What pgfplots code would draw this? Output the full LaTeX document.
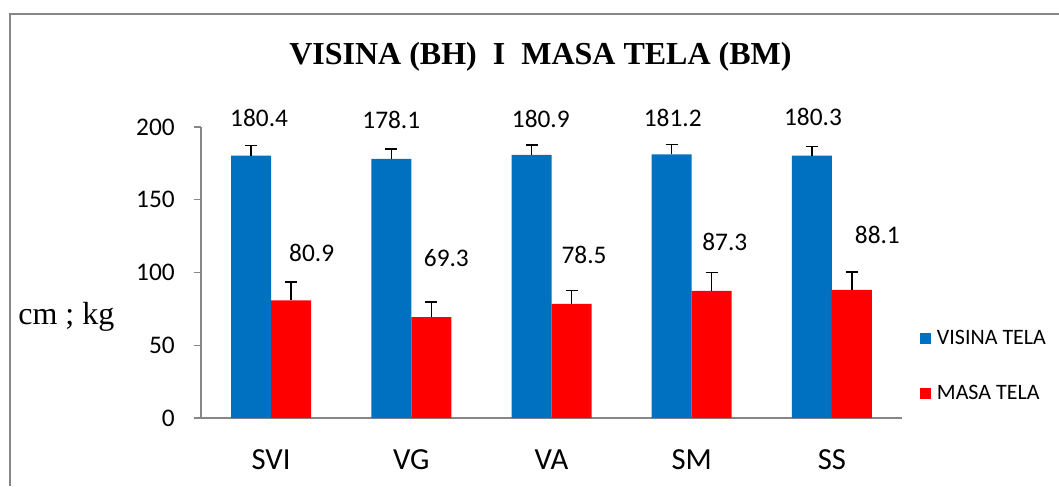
\documentclass[border=0pt]{standalone}
\usepackage{pgfplots}
\pgfplotsset{compat=1.18}
\usepackage{pgfplotstable}
\usepackage{fontspec}
\setmainfont{Carlito}
\newfontfamily\timesfont{Liberation Serif}
\definecolor{xlblue}{RGB}{0,112,192}
\definecolor{xlred}{RGB}{255,0,0}
\definecolor{frame}{RGB}{134,134,134}
\pgfplotstableread{
x b be bdx bdy r re rdx rdy
0 180.4 6.9 6.0 28.1 80.9 12.6 15.4 35.5
1 178.1 6.9 0.0 29.2 69.3 10.3 11.3 44.4
2 180.9 6.6 7.0 26.6 78.5 9.0 9.4 36.6
3 181.2 6.7 0.8 27.1 87.3 12.8 9.8 37.0
4 180.3 6.4 0.8 28.8 88.1 12.2 19.1 41.1
}\data
\begin{document}
\begin{tikzpicture}
\useasboundingbox (0,0) rectangle (794.25pt,364.5pt);
\draw[frame, line width=1.4pt] (7.5pt,0) -- (7.5pt,354pt) -- (794.25pt,354pt);
\begin{axis}[
  at={(150.75pt,51pt)}, anchor=south west,
  scale only axis, width=525.75pt, height=218.25pt,
  ybar=0pt, bar width=30pt,
  xmin=-0.5, xmax=4.5, ymin=0, ymax=200,
  xtick={0,1,2,3,4}, xticklabels={SVI,VG,VA,SM,SS},
  major x tick style={draw=none},
  extra x ticks={-0.5,0.5,1.5,2.5,3.5,4.5},
  extra x tick labels={},
  extra x tick style={major tick length=7pt, tick style={frame, line width=1.1pt}},
  ytick={0,50,100,150,200},
  ytick style={frame, line width=1.1pt},
  major tick length=5.5pt,
  tick align=outside,
  axis x line*=bottom, axis y line*=left,
  axis line style={frame, line width=1.1pt, -},
  /pgf/number format/assume math mode=true,
  /pgf/number format/fixed,
  /pgf/number format/fixed zerofill,
  /pgf/number format/precision=1,
  yticklabel={\pgfmathprintnumber[fixed,precision=0]{\tick}},
  yticklabel style={font=\fontsize{19}{19}\selectfont, anchor=east, inner sep=0pt, xshift=-14pt},
  xticklabel style={font=\fontsize{23}{23}\selectfont, anchor=center, yshift=-25.5pt},
  title={\timesfont\bfseries VISINA (BH)\ \ I\ \ MASA TELA (BM)},
  title style={font=\fontsize{24}{24}\selectfont, at={(axis description cs:0,1)}, anchor=center, xshift=254.6pt, yshift=47pt},
  ylabel={\timesfont cm ; kg},
  every axis y label/.style={at={(axis description cs:0,0)}, anchor=west, xshift=-140.5pt, yshift=76pt, font=\fontsize{24}{24}\selectfont},
  legend style={draw=none, fill=none, at={(axis description cs:1,0)}, anchor=west, xshift=13pt, yshift=39pt,
    font=\fontsize{16.5}{16.5}\selectfont, row sep=25.5pt, inner sep=0pt,
    nodes={inner xsep=4.5pt}},
  legend cell align=left,
  legend image code/.code={\fill[#1] (0pt,-4.25pt) rectangle (8.5pt,4.25pt);},
  nodes near coords,
  nodes near coords style={font=\fontsize{19}{19}\selectfont},
]
\addplot[fill=xlblue, draw=none,
  visualization depends on={\thisrow{bdx} \as \dx},
  visualization depends on={\thisrow{bdy} \as \dy},
  every node near coord/.append style={anchor=center, xshift=\dx pt, yshift=\dy pt, text=black},
  error bars/.cd, y dir=plus, y explicit,
  error bar style={black, line width=1.1pt},
  error mark options={black, line width=1.1pt, mark size=4.5pt, rotate=90}]
  table[x=x, y=b, y error=be] {\data};
\addplot[fill=xlred, draw=none,
  visualization depends on={\thisrow{rdx} \as \dx},
  visualization depends on={\thisrow{rdy} \as \dy},
  every node near coord/.append style={anchor=center, xshift=\dx pt, yshift=\dy pt, text=black},
  error bars/.cd, y dir=plus, y explicit,
  error bar style={black, line width=1.1pt},
  error mark options={black, line width=1.1pt, mark size=4.5pt, rotate=90}]
  table[x=x, y=r, y error=re] {\data};
\legend{VISINA TELA, MASA TELA}
\end{axis}
\end{tikzpicture}
\end{document}
